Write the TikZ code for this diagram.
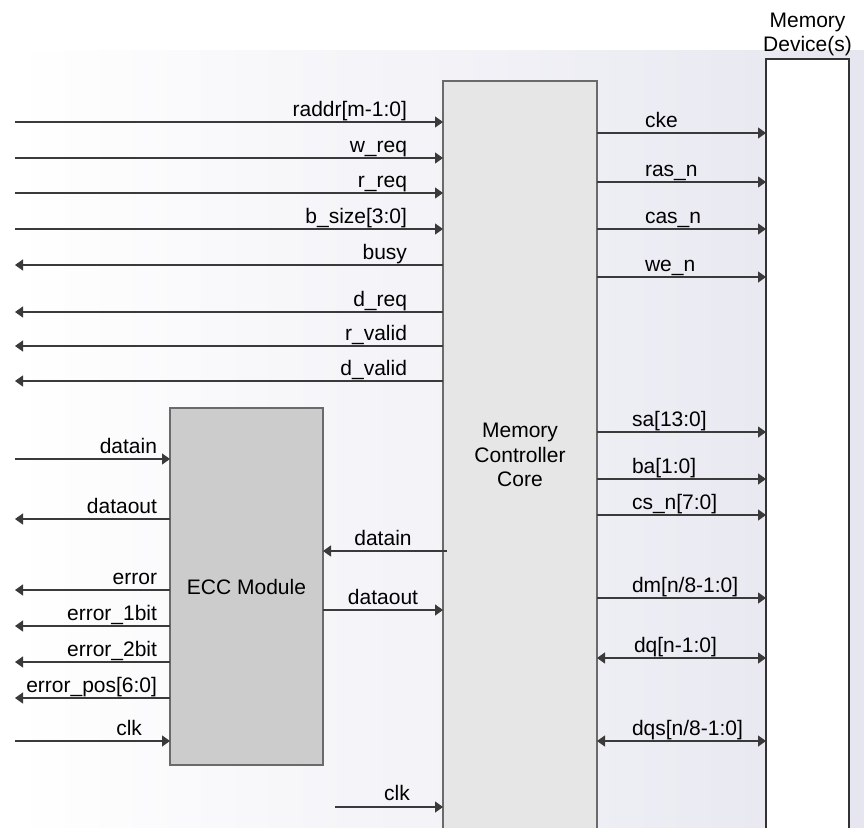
\documentclass[tikz,border=0pt]{standalone}
\usepackage{fontspec}
\setmainfont{Liberation Sans}
\usetikzlibrary{arrows.meta}
\definecolor{bgR}{HTML}{E6E6F0}
\definecolor{linec}{HTML}{3A3A3A}
\definecolor{coreg}{HTML}{E6E6E6}
\definecolor{eccg}{HTML}{CCCCCC}
\definecolor{borderg}{HTML}{6A6A6A}
\begin{document}
\begin{tikzpicture}[x=1pt,y=-1pt,
  every node/.style={font=\fontsize{21}{24.5}\selectfont, inner sep=0pt, outer sep=0pt},
  tipA/.tip={Triangle[length=8pt,width=11pt]},
  sig/.style={draw=linec, line width=1.3pt, -tipA},
  sigl/.style={draw=linec, line width=1.3pt, tipA-},
  sigb/.style={draw=linec, line width=1.3pt, tipA-tipA},
  lbl/.style={text=black},
  boxline/.style={draw=borderg, line width=1.3pt}]
\useasboundingbox (0,0) rectangle (864,827);
\clip (0,0) rectangle (864,827);
\fill[white] (0,0) rectangle (864,827);
\shade[left color=white, right color=bgR] (14,50) rectangle (864,827);

% memory controller core
\node[fill=coreg, minimum width=154pt, minimum height=800pt, anchor=north west] (core) at (443,81) {};
\draw[boxline] (core.south west) -- (core.north west) -- (core.north east) -- (core.south east);
\node[align=center] (coretxt) at (520,455) {Memory\\Controller\\Core};

% memory device
\node[fill=white, minimum width=83pt, minimum height=800pt, anchor=north west] (mem) at (766,59) {};
\draw[draw=black!80, line width=1.1pt] (mem.south west) -- (mem.north west) -- (mem.north east) -- (mem.south east);
\node[align=center, anchor=south] (memtxt) at (807.5,56) {Memory\\Device(s)};

% ECC module
\node[fill=eccg, draw=borderg, line width=1.3pt, minimum width=153pt, minimum height=357pt, anchor=north west] (ecc) at (170,408) {ECC Module};

% left inputs to core
\foreach \n/\y/\txt in {a/122/raddr[m-1:0], b/158/w\_req, c/193/r\_req, d/229/b\_size[3:0]}{
  \coordinate (Li\n) at (15,\y);
  \draw[sig] (Li\n) -- (Li\n -| core.west);
  \node[lbl, anchor=base east] (Lil\n) at (407,\y-6) {\txt};
}
% left outputs from core
\foreach \n/\y/\txt in {a/265/busy, b/312/d\_req, c/346/r\_valid, d/381/d\_valid}{
  \coordinate (Lo\n) at (15,\y);
  \draw[sigl] (Lo\n) -- (Lo\n -| core.west);
  \node[lbl, anchor=base east] (Lol\n) at (407,\y-6) {\txt};
}
% ECC inputs
\foreach \n/\y/\x/\txt in {a/459/157/datain, b/741/142/clk}{
  \coordinate (Ei\n) at (15,\y);
  \draw[sig] (Ei\n) -- (Ei\n -| ecc.west);
  \node[lbl, anchor=base east] (Eil\n) at (\x,\y-6) {\txt};
}
% ECC outputs
\foreach \n/\y/\txt in {a/519/dataout, b/590/error, c/626/error\_1bit, d/662/error\_2bit, e/698/error\_pos[6:0]}{
  \coordinate (Eo\n) at (15,\y);
  \draw[sigl] (Eo\n) -- (Eo\n -| ecc.west);
  \node[lbl, anchor=base east] (Eol\n) at (157,\y-6) {\txt};
}
% core <-> ECC
\coordinate (cdi) at (447,551);
\draw[sig] (cdi) -- (cdi -| ecc.east);
\node[lbl, anchor=base] (cdil) at (383,545) {datain};
\coordinate (cdo) at (323,610);
\draw[sig] (cdo -| ecc.east) -- (cdo -| core.west);
\node[lbl, anchor=base] (cdol) at (383,604) {dataout};
\coordinate (cclk) at (335,807);
\draw[sig] (cclk) -- (cclk -| core.west);
\node[lbl, anchor=base] (cclkl) at (397,800) {clk};

% right outputs to memory
\foreach \n/\y/\x/\txt in {a/133/645/cke, b/182/645/ras\_n, c/229/645/cas\_n, d/277/645/we\_n, e/432/632/sa[13:0], f/479/632/ba[1:0], g/515/632/cs\_n[7:0], h/598/632/{dm[n/8-1:0]}}{
  \coordinate (Ro\n) at (core.east |- 0,\y);
  \draw[sig] (Ro\n) -- (Ro\n -| mem.west);
  \node[lbl, anchor=base west] (Rol\n) at (\x,\y-6) {\txt};
}
% bidirectional
\foreach \n/\y/\x/\txt in {a/658/634/{dq[n-1:0]}, b/741/632/{dqs[n/8-1:0]}}{
  \coordinate (Rb\n) at (core.east |- 0,\y);
  \draw[sigb] (Rb\n) -- (Rb\n -| mem.west);
  \node[lbl, anchor=base west] (Rbl\n) at (\x,\y-6) {\txt};
}
\end{tikzpicture}
\end{document}
